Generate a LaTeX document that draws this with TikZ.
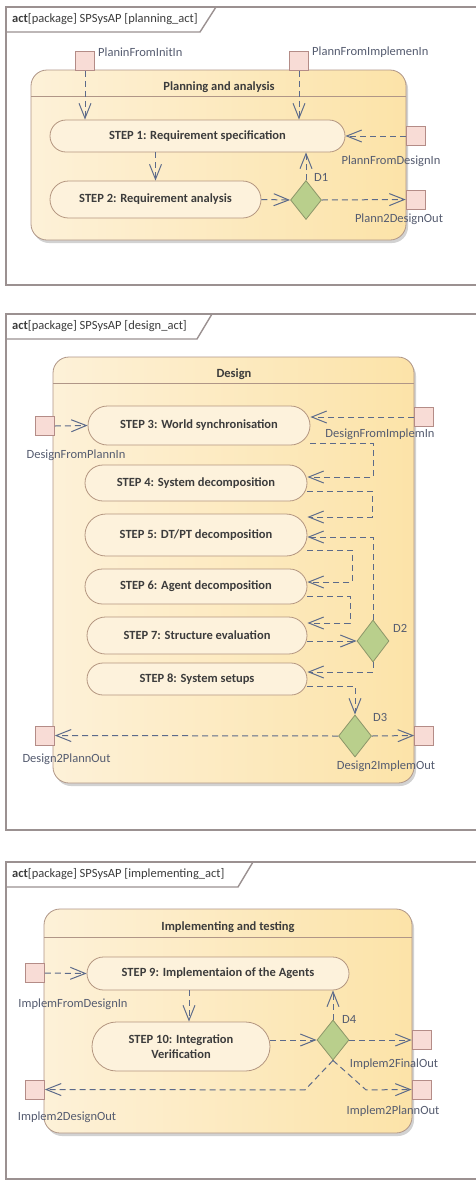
\documentclass[tikz,border=0pt]{standalone}
\usepackage{fontspec}
\setmainfont{Carlito}
\usetikzlibrary{arrows.meta,shapes.misc,shapes.geometric,shadows,calc}

\definecolor{framec}{RGB}{155,145,145}
\definecolor{actL}{RGB}{253,241,216}
\definecolor{actR}{RGB}{252,227,168}
\definecolor{actB}{RGB}{176,150,135}
\definecolor{stepF}{RGB}{253,242,220}
\definecolor{stepB}{RGB}{180,150,128}
\definecolor{portF}{RGB}{248,220,214}
\definecolor{portB}{RGB}{180,140,135}
\definecolor{decF}{RGB}{185,207,140}
\definecolor{decB}{RGB}{140,150,105}
\definecolor{flowc}{RGB}{92,106,138}
\definecolor{lblc}{RGB}{85,92,112}
\definecolor{txtc}{RGB}{60,60,60}

\newcommand{\myfs}{\fontsize{12.5}{15}\selectfont}

\tikzset{
 frame/.style={draw=framec, line width=1.4pt},
 actbox/.style={draw=actB, line width=0.8pt, rounded corners=16pt, left color=actL, right color=actR,
   drop shadow={shadow xshift=2pt, shadow yshift=-3pt, opacity=0.35, fill=gray}},
 hdr/.style={draw=actB, line width=0.8pt},
 stepbox/.style={rounded rectangle, draw=stepB, line width=0.8pt, fill=stepF, font=\myfs\bfseries, text=txtc, inner sep=0pt, align=center},
 port/.style={rectangle, draw=portB, line width=0.7pt, fill=portF, minimum size=19pt, inner sep=0pt},
 dec/.style={diamond, draw=decB, line width=0.8pt, fill=decF, inner sep=0pt},
 lbl/.style={font=\myfs, text=lblc, inner sep=0pt},
 ttl/.style={font=\myfs\bfseries, text=txtc, inner sep=0pt},
 ftitle/.style={font=\myfs, text=txtc, inner sep=0pt, anchor=west},
 flow/.style={draw=flowc, line width=1pt, dash pattern=on 6pt off 4pt, -{Straight Barb[length=15pt,width=12pt]}},
}

\begin{document}
\begin{tikzpicture}[x=1pt,y=-1pt]
\useasboundingbox (0,0) rectangle (476,1181);
\fill[white] (0,0) rectangle (476,1181);
\clip (0,0) rectangle (476,1181);

% ================= Frame 1 =================
\draw[frame] (6,7) rectangle (490,285);
\draw[frame] (6,32) -- (200,32) -- (216,7);
\node[ftitle] (F1) at (12,19) {\textbf{act}[package] SPSysAP [planning\_act]};

\node[actbox, minimum width=375pt, minimum height=170pt] (A1) at (218.5,155) {};
\draw[hdr] (31,96) -- (406,96);
\node[ttl] (A1t) at (219,87) {Planning and analysis};

\node[port] (PI1) at (85,61) {};
\node[port] (PI2) at (299,61) {};
\node[port] (PFD) at (415.5,136) {};
\node[port] (P2D) at (415.5,199.5) {};

\node[stepbox, minimum width=295pt, minimum height=32pt] (S1) at (197.5,136) {STEP 1: Requirement specification};
\node[stepbox, minimum width=211pt, minimum height=37pt] (S2) at (155.5,199.5) {STEP 2: Requirement analysis};
\node[dec, minimum width=31pt, minimum height=39pt] (D1) at (306,200) {};

\draw[flow] (PI1.south) -- (PI1.south |- S1.north);
\draw[flow] (PI2.south) -- (PI2.south |- S1.north);
\draw[flow] (PFD.west) -- (S1.east);
\draw[flow] (S2.north |- S1.south) -- (S2.north);
\draw[flow] (S2.east) -- (D1.west);
\draw[flow] (D1.north) -- (D1.north |- S1.south);
\draw[flow] (D1.east) -- (P2D.west);

\node[lbl, anchor=west] (lPI1) at (98,52) {PlaninFromInitIn};
\node[lbl, anchor=west] (lPI2) at (312,52) {PlannFromImplemenIn};
\node[lbl] (lPFD) at (391,161) {PlannFromDesignIn};
\node[lbl] (lP2D) at (399,219) {Plann2DesignOut};
\node[lbl, anchor=west] (lD1) at (314,177) {D1};

% ================= Frame 2 =================
\draw[frame] (6,314) rectangle (490,830);
\draw[frame] (6,339) -- (197,339) -- (212,314);
\node[ftitle] (F2) at (12,326) {\textbf{act}[package] SPSysAP [design\_act]};

\node[actbox, minimum width=361pt, minimum height=426pt] (A2) at (233.5,570) {};
\draw[hdr] (53,383) -- (414,383);
\node[ttl] (A2t) at (234,374) {Design};

\node[port] (DFP) at (45,426) {};
\node[port] (DFI) at (424,417) {};
\node[port] (D2P) at (45,735.5) {};
\node[port] (D2I) at (424,735.5) {};

\node[stepbox, minimum width=222pt, minimum height=39pt] (S3) at (199,425.5) {STEP 3: World synchronisation};
\node[stepbox, minimum width=222pt, minimum height=36pt] (S4) at (196,483) {STEP 4: System decomposition};
\node[stepbox, minimum width=222pt, minimum height=42pt] (S5) at (196,535) {STEP 5: DT/PT decomposition};
\node[stepbox, minimum width=222pt, minimum height=35pt] (S6) at (196,586.5) {STEP 6: Agent decomposition};
\node[stepbox, minimum width=220pt, minimum height=37pt] (S7) at (197,635.5) {STEP 7: Structure evaluation};
\node[stepbox, minimum width=220pt, minimum height=32pt] (S8) at (197,679) {STEP 8: System setups};
\node[dec, minimum width=32pt, minimum height=42pt] (D2) at (373,641) {};
\node[dec, minimum width=33pt, minimum height=42pt] (D3) at (355,736) {};

\draw[flow] (DFP.east) -- (S3.west);
\draw[flow] (DFI.west) -- (DFI.west -| S3.east);
\draw[flow] ($(S3.east)+(0,17.5)$) -- ++(63,0) |- ($(S4.east)+(0,-6)$);
\draw[flow] ($(S4.east)+(0,8)$) -- ++(65,0) |- ($(S5.east)+(0,-18)$);
\draw[flow] ($(S5.east)+(0,15)$) -- ++(45,0) |- ($(S6.east)+(0,-4.5)$);
\draw[flow] ($(S6.east)+(0,9.5)$) -- ++(43,0) |- ($(S7.east)+(0,-12.5)$);
\draw[flow] (S7.east |- D2.west) -- (D2.west);
\draw[flow] (D2.north) |- ($(S5.east)+(0,2)$);
\draw[flow] (D2.south) |- ($(S8.east)+(0,-7)$);
\draw[flow] ($(S8.east)+(0,7)$) -| (D3.north);
\draw[flow] (D3.west) -- (D2P.east);
\draw[flow] (D3.east) -- (D2I.west);

\node[lbl] (lDFP) at (76,455) {DesignFromPlannIn};
\node[lbl] (lDFI) at (380,434) {DesignFromImplemIn};
\node[lbl] (lD2P) at (66.5,759) {Design2PlannOut};
\node[lbl] (lD2I) at (386,766) {Design2ImplemOut};
\node[lbl, anchor=west] (lD2) at (393,628) {D2};
\node[lbl, anchor=west] (lD3) at (373,717) {D3};

% ================= Frame 3 =================
\draw[frame] (6,862) rectangle (490,1179);
\draw[frame] (6,887) -- (238,887) -- (253,862);
\node[ftitle] (F3) at (12,874) {\textbf{act}[package] SPSysAP [implementing\_act]};

\node[actbox, minimum width=368pt, minimum height=224pt] (A3) at (228,1021) {};
\draw[hdr] (44,937) -- (412,937);
\node[ttl] (A3t) at (228,927) {Implementing and testing};

\node[port] (IFD) at (35,973) {};
\node[port] (I2D) at (35,1089.5) {};
\node[port] (I2F) at (421.5,1040) {};
\node[port] (I2P) at (421.5,1089.5) {};

\node[stepbox, minimum width=262pt, minimum height=33pt] (S9) at (218,973.5) {STEP 9: Implementaion of the Agents};
\node[stepbox, minimum width=178pt, minimum height=49pt] (S10) at (181,1046.5) {STEP 10: Integration\\Verification};
\node[dec, minimum width=32pt, minimum height=40pt] (D4) at (333,1040) {};

\draw[flow] (IFD.east) -- (S9.west);
\path (S10.north) ++(8,0) coordinate (s10in);
\draw[flow] (s10in |- S9.south) -- (s10in);
\draw[flow] (S10.east |- D4.west) -- (D4.west);
\draw[flow] (D4.north) -- (D4.north |- S9.south);
\draw[flow] (D4.east) -- (I2F.west);
\draw[flow] (D4.south) -- ++(-28,29.5) -- (I2D.east);
\draw[flow] (D4.south) -- ++(33,29.5) -- (I2P.west);

\node[lbl] (lIFD) at (73,1004) {ImplemFromDesignIn};
\node[lbl] (lI2D) at (67,1117) {Implem2DesignOut};
\node[lbl] (lI2F) at (394,1064) {Implem2FinalOut};
\node[lbl] (lI2P) at (393,1111) {Implem2PlannOut};
\node[lbl, anchor=west] (lD4) at (342,1019) {D4};
\end{tikzpicture}
\end{document}
